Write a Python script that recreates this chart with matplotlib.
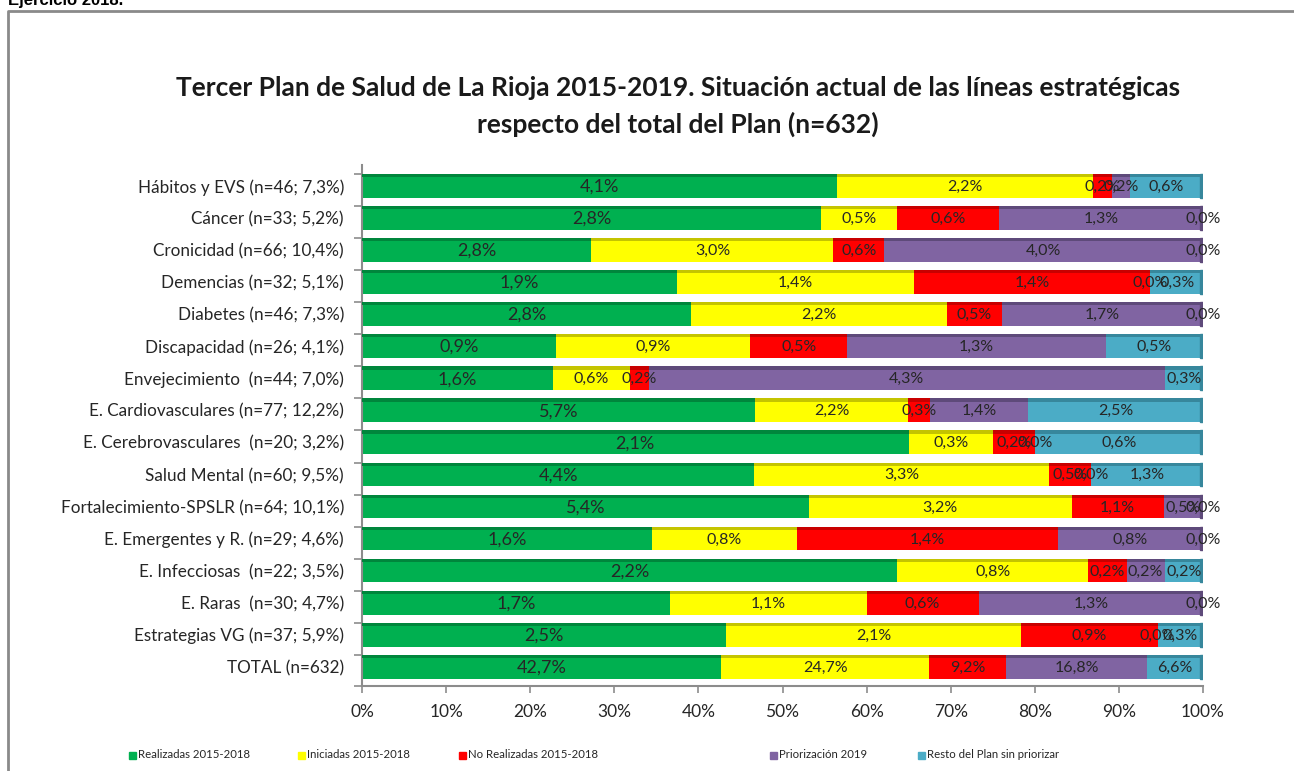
import numpy as np
import matplotlib
matplotlib.use('Agg')
import matplotlib.pyplot as plt
from matplotlib.patches import Rectangle
from matplotlib.lines import Line2D

# number of lines of the plan (n=632) by strategic area and status
PLAN_TOTAL = 632
categories = ['Hábitos y EVS (n=46; 7,3%)', 'Cáncer (n=33; 5,2%)', 'Cronicidad (n=66; 10,4%)',
              'Demencias (n=32; 5,1%)', 'Diabetes (n=46; 7,3%)', 'Discapacidad (n=26; 4,1%)',
              'Envejecimiento  (n=44; 7,0%)', 'E. Cardiovasculares (n=77; 12,2%)',
              'E. Cerebrovasculares  (n=20; 3,2%)', 'Salud Mental (n=60; 9,5%)',
              'Fortalecimiento-SPSLR (n=64; 10,1%)', 'E. Emergentes y R. (n=29; 4,6%)',
              'E. Infecciosas  (n=22; 3,5%)', 'E. Raras  (n=30; 4,7%)',
              'Estrategias VG (n=37; 5,9%)', 'TOTAL (n=632)']
realizadas = [26, 18, 18, 12, 18, 6, 10, 36, 13, 28, 34, 10, 14, 11, 16, 270]
iniciadas = [14, 3, 19, 9, 14, 6, 4, 14, 2, 21, 20, 5, 5, 7, 13, 156]
no_realizadas = [1, 4, 4, 9, 3, 3, 1, 2, 1, 3, 7, 9, 1, 4, 6, 58]
priorizacion = [1, 8, 25, 0, 11, 8, 27, 9, 0, 0, 3, 5, 1, 8, 0, 106]
resto = [4, 0, 0, 2, 0, 3, 2, 16, 4, 8, 0, 0, 1, 0, 2, 42]

series_names = ['Realizadas 2015-2018', 'Iniciadas 2015-2018', 'No Realizadas 2015-2018',
                'Priorización 2019', 'Resto del Plan sin priorizar']
colors = ['#00B050', '#FFFF00', '#FF0000', '#8064A2', '#4BACC6']
dark_colors = ['#00863C', '#C4C400', '#C80000', '#5E4A7A', '#37879C']

plt.rcParams['font.family'] = ['Lato', 'DejaVu Sans']

series = np.array([realizadas, iniciadas, no_realizadas, priorizacion, resto], dtype=float)
row_totals = series.sum(axis=0)
shares = series / row_totals

fig = plt.figure(figsize=(12.94, 7.71), dpi=100)
ax = fig.add_axes([362 / 1294, 1 - 686 / 771, (1203 - 362) / 1294, (686 - 165) / 771])

y = np.arange(len(categories))
bar_h = 0.74
left = np.zeros(len(categories))
for k in range(len(series_names)):
    ax.barh(y, shares[k], left=left, height=bar_h, color=colors[k], edgecolor='none', zorder=2)
    # darker strip on top of the bars (3D look of the original)
    ax.barh(y - bar_h / 2 + 0.05, shares[k], left=left, height=0.1, color=dark_colors[k],
            edgecolor='none', zorder=3)
    for i in range(len(categories)):
        pct = series[k, i] / PLAN_TOTAL * 100
        txt = ('%.1f%%' % pct).replace('.', ',')
        size = 13 if k == 0 else 11.5
        ax.text(left[i] + shares[k, i] / 2, y[i] + 0.03, txt, ha='center', va='center',
                fontsize=size, color='#262626', zorder=5)
    left = left + shares[k]

# dark end cap on the right side of each bar
for i in range(len(categories)):
    last = max(k for k in range(len(series_names)) if series[k, i] > 0)
    ax.add_patch(Rectangle((0.996, y[i] - bar_h / 2), 0.004, bar_h, color=dark_colors[last], zorder=4))

ax.set_xlim(0, 1)
ax.set_ylim(15.6, -0.65)
ax.set_xticks(np.linspace(0, 1, 11))
ax.set_xticklabels(['%d%%' % v for v in range(0, 101, 10)], fontsize=12.5, color='#262626')
ax.set_yticks(y)
ax.set_yticklabels(categories, fontsize=12.3, color='#262626')
ax.set_yticks(np.append(y - 0.37, 15.6), minor=True)
ax.tick_params(axis='y', which='major', length=0, pad=13)
ax.tick_params(axis='y', which='minor', length=6, color='#8c8c8c', width=1.2)
ax.tick_params(axis='x', length=5, color='#8c8c8c', width=1.2, pad=8)
for s in ['top', 'right']:
    ax.spines[s].set_visible(False)
for s in ['left', 'bottom']:
    ax.spines[s].set_color('#8c8c8c')
    ax.spines[s].set_linewidth(1.5)

# title
fig.text(678 / 1294, 1 - 88 / 771, 'Tercer Plan de Salud de La Rioja 2015-2019. Situación actual de las líneas estratégicas',
         ha='center', va='center', fontsize=19, fontweight='bold', color='#1a1a1a')
fig.text(678 / 1294, 1 - 124 / 771, 'respecto del total del Plan (n=632)',
         ha='center', va='center', fontsize=19, fontweight='bold', color='#1a1a1a')

# legend, placed entry by entry like the Excel one
legend_x = [129, 298, 459, 770, 918]
for k in range(len(series_names)):
    fig.patches.append(Rectangle((legend_x[k] / 1294, 1 - 759 / 771), 7 / 1294, 7 / 771,
                                 transform=fig.transFigure, color=colors[k]))
    fig.text((legend_x[k] + 9) / 1294, 1 - 755 / 771, series_names[k], ha='left', va='center',
             fontsize=8.2, color='#262626')

# outer frame and the cut heading above it
fig.add_artist(Line2D([8 / 1294, 8 / 1294, 1], [0, 1 - 11 / 771, 1 - 11 / 771],
                      transform=fig.transFigure, color='#8a8a8a', linewidth=2))
fig.text(8 / 1294, 1 - 5 / 771, 'Ejercicio 2018.', ha='left', va='baseline', fontsize=12,
         fontweight='bold', family=['Liberation Sans', 'DejaVu Sans'])

fig.savefig('out.png', dpi=100)
